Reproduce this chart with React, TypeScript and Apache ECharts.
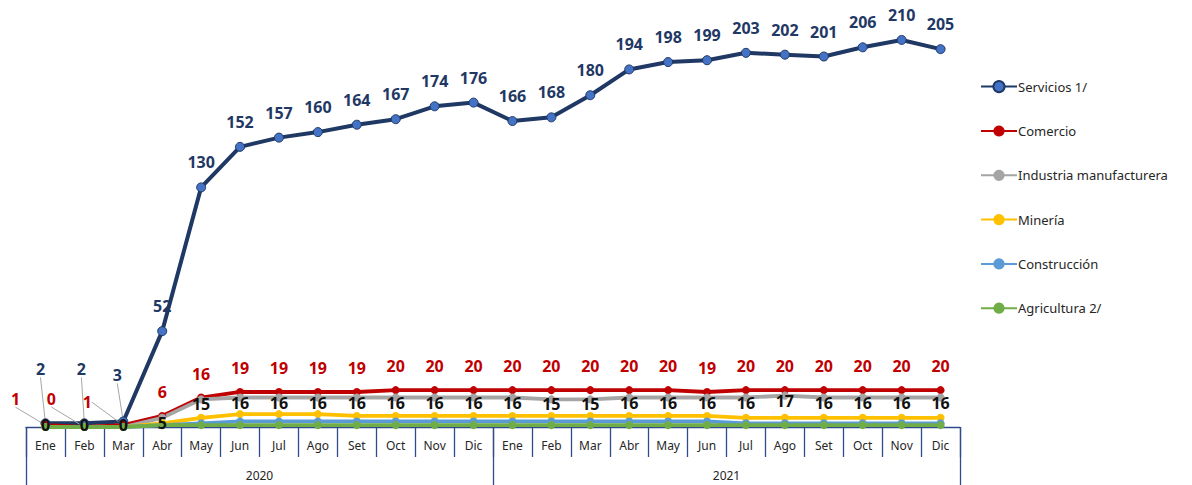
import React, { useEffect, useRef } from 'react';
import * as echarts from 'echarts';

const months = ['Ene', 'Feb', 'Mar', 'Abr', 'May', 'Jun', 'Jul', 'Ago', 'Set', 'Oct', 'Nov', 'Dic'];
const categories = [...months, ...months];
const years = ['2020', '2021'];
const servicios = [2, 2, 3, 52, 130, 152, 157, 160, 164, 167, 174, 176, 166, 168, 180, 194, 198, 199, 203, 202, 201, 206, 210, 205];
const comercio = [1, 0, 1, 6, 16, 19, 19, 19, 19, 20, 20, 20, 20, 20, 20, 20, 20, 19, 20, 20, 20, 20, 20, 20];
const industria = [0, 0, 0, 5, 15, 16, 16, 16, 16, 16, 16, 16, 16, 15, 15, 16, 16, 16, 16, 17, 16, 16, 16, 16];
const mineria = [0, 0, 0, 2, 5, 7, 7, 7, 6, 6, 6, 6, 6, 6, 6, 6, 6, 6, 5, 5, 5, 5, 5, 5];
const construccion = [0, 0, 0, 1, 2, 3, 3, 3, 3, 3, 3, 3, 3, 3, 3, 3, 3, 3, 2, 2, 2, 2, 2, 2];
const agricultura = [0, 0, 0, 1, 1, 1, 1, 1, 1, 1, 1, 1, 1, 1, 1, 1, 1, 1, 1, 1, 1, 1, 1, 1];

const FONT = 'Noto Sans';
const AXIS = '#2F4B8C';

// label displacements for the first months (moved labels with leader lines)
const servShift = [[-5, -29], [-3, -29], [-6, -21]];
const comShift = [[-30, -2], [-33, -4], [-36, 1]];

function withLeaders(values: number[]) {
  return values.map((v, i) =>
    i < 3 ? { value: v, labelLine: { show: true, lineStyle: { color: '#A6A6A6', width: 1 } } } : v
  );
}

function industriaData(values: number[]) {
  return values.map((v, i) => (i < 3 ? { value: v, label: { offset: [0, -2] } } : v));
}

export default function App() {
  const ref = useRef<HTMLDivElement>(null);
  useEffect(() => {
    if (!ref.current) return;
    const chart = echarts.init(ref.current, undefined, { renderer: 'svg' });
    const base = (name: string, color: string, data: any, extra: any = {}) => ({
      name,
      type: 'line',
      data,
      xAxisIndex: 0,
      symbol: 'circle',
      symbolSize: 8,
      lineStyle: { color, width: 3.8 },
      itemStyle: { color },
      label: { show: false },
      ...extra,
    });
    const option: any = {
      animation: false,
      backgroundColor: '#ffffff',
      grid: { left: 26, right: 232, top: 21.5, bottom: 58 },
      legend: {
        orient: 'vertical',
        left: 975,
        top: 75,
        itemWidth: 36,
        itemHeight: 14,
        itemGap: 31.3,
        textStyle: { fontFamily: FONT, fontSize: 13, color: '#262626', padding: [0, 0, 0, -4] },
      },
      xAxis: [
        {
          type: 'category',
          data: categories,
          position: 'bottom',
          boundaryGap: true,
          axisLine: { show: true, lineStyle: { color: AXIS, width: 1.3 } },
          axisTick: { show: true, interval: 0, length: 30, lineStyle: { color: AXIS, width: 1.3 } },
          axisLabel: { interval: 0, margin: 12, fontFamily: FONT, fontSize: 12, color: '#262626' },
        },
        {
          type: 'category',
          data: years,
          position: 'bottom',
          boundaryGap: true,
          axisLine: { show: false },
          axisTick: { show: true, interval: 0, length: 58, lineStyle: { color: AXIS, width: 1.3 } },
          axisLabel: { interval: 0, margin: 42, fontFamily: FONT, fontSize: 12, color: '#262626' },
        },
      ],
      yAxis: { type: 'value', min: 0, max: 220, show: false, splitLine: { show: false } },
      series: [
        base('Servicios 1/', '#1F3864', withLeaders(servicios), {
          symbolSize: 9,
          lineStyle: { color: '#1F3864', width: 4 },
          itemStyle: { color: '#4472C4', borderColor: '#1F3864', borderWidth: 1 },
          label: {
            show: true,
            position: 'top',
            distance: 12,
            fontFamily: FONT,
            fontSize: 16,
            fontWeight: 'bold',
            color: '#1F3864',
          },
          labelLayout: (p: any) =>
            p.dataIndex < 3 ? { dx: servShift[p.dataIndex][0], dy: servShift[p.dataIndex][1] } : {},
        }),
        base('Comercio', '#C00000', withLeaders(comercio), {
          label: {
            show: true,
            position: 'top',
            distance: 12,
            fontFamily: FONT,
            fontSize: 16,
            fontWeight: 'bold',
            color: '#C00000',
          },
          labelLayout: (p: any) =>
            p.dataIndex < 3 ? { dx: comShift[p.dataIndex][0], dy: comShift[p.dataIndex][1] } : {},
        }),
        base('Industria manufacturera', '#A5A5A5', industriaData(industria), {
          label: {
            show: true,
            position: 'inside',
            offset: [0, 5],
            fontFamily: FONT,
            fontSize: 16,
            fontWeight: 'bold',
            color: '#111111',
          },
        }),
        base('Minería', '#FFC000', mineria),
        base('Construcción', '#5B9BD5', construccion),
        base('Agricultura 2/', '#70AD47', agricultura),
      ],
    };
    chart.setOption(option);
    return () => chart.dispose();
  }, []);
  return (
    <div
      ref={ref}
      style={{ position: 'fixed', left: 0, top: 0, width: 1192, height: 485, background: '#fff' }}
    />
  );
}
